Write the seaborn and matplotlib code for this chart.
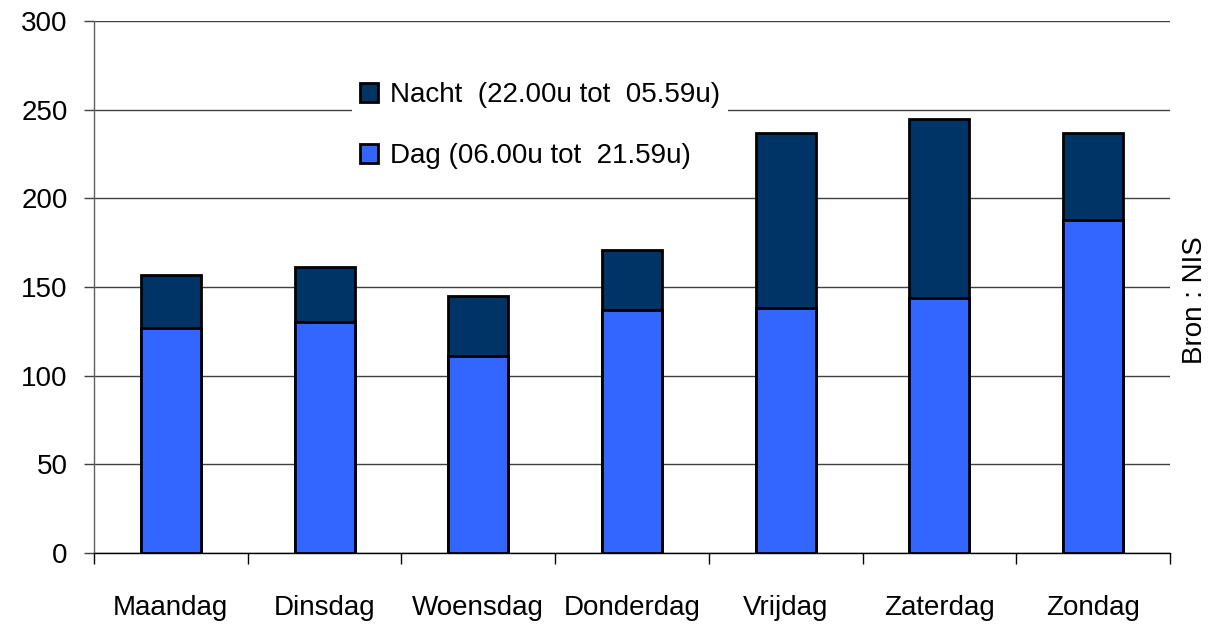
import matplotlib
matplotlib.use("Agg")
import matplotlib.pyplot as plt
from matplotlib.patches import Patch
import seaborn as sns

days = ['Maandag', 'Dinsdag', 'Woensdag', 'Donderdag', 'Vrijdag', 'Zaterdag', 'Zondag']
dag = [127, 130, 111, 137, 138, 144, 188]
nacht = [30, 31, 34, 34, 99, 101, 49]
yticks = [0, 50, 100, 150, 200, 250, 300]

DAG_COLOR = '#3366ff'
NACHT_COLOR = '#003366'

sns.set_theme(style='white')
plt.rcParams['font.family'] = ['Liberation Sans', 'DejaVu Sans']
plt.rcParams['text.color'] = 'black'

totaal = [d + n for d, n in zip(dag, nacht)]

fig = plt.figure(figsize=(12.11, 6.28), dpi=100)
ax = fig.add_axes([0.0776, 0.1194, 0.8886, 0.8472])

# stacked: full height first (nacht colour), then dag on top of it
sns.barplot(x=days, y=totaal, color=NACHT_COLOR, width=0.39,
            edgecolor='black', linewidth=2, saturation=1, ax=ax, zorder=3)
sns.barplot(x=days, y=dag, color=DAG_COLOR, width=0.39,
            edgecolor='black', linewidth=2, saturation=1, ax=ax, zorder=3)

ax.set_ylim(0, 300)
ax.set_xlim(-0.5, 6.5)
ax.set_yticks(yticks)
ax.set_yticklabels([str(v) for v in yticks])
ax.yaxis.grid(True, color='#404040', linewidth=1)
ax.set_axisbelow(True)

for s in ['top', 'right']:
    ax.spines[s].set_visible(False)
ax.spines['left'].set_color('#606060')
ax.spines['left'].set_linewidth(1)
ax.spines['bottom'].set_color('black')
ax.spines['bottom'].set_linewidth(1)

ax.tick_params(axis='y', left=True, length=7, width=1, color='#404040',
               pad=12, labelsize=20, labelcolor='black')
ax.tick_params(axis='x', which='major', bottom=False, length=0, pad=30,
               labelsize=20, labelcolor='black')
ax.set_xticks([i - 0.5 for i in range(len(days) + 1)], minor=True)
ax.tick_params(axis='x', which='minor', bottom=True, length=8, width=1,
               color='black', direction='out')
ax.set_xlabel('')
ax.set_ylabel('')

handles = [Patch(facecolor=NACHT_COLOR, edgecolor='black', linewidth=2),
           Patch(facecolor=DAG_COLOR, edgecolor='black', linewidth=2)]
labels = ['Nacht  (22.00u tot  05.59u)', 'Dag (06.00u tot  21.59u)']
leg = ax.legend(handles, labels, loc='upper left',
                bbox_to_anchor=(352 / 1211, 1 - 74 / 628),
                bbox_transform=fig.transFigure,
                fontsize=20, frameon=True, facecolor='white', edgecolor='none',
                framealpha=1, fancybox=False, handlelength=0.65, handleheight=0.65,
                handletextpad=0.4, labelspacing=1.25, borderpad=0.3,
                borderaxespad=0, labelcolor='black')
leg.set_zorder(5)

fig.text(0.987, 0.522, 'Bron : NIS', rotation=90, ha='center', va='center',
         fontsize=20, color='black')

fig.savefig('out.png', dpi=100, facecolor='white')
